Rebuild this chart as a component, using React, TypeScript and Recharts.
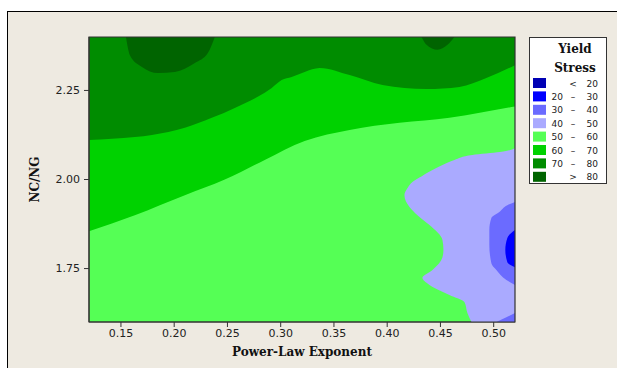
import React from "react";
import { ComposedChart, Area, XAxis, YAxis, ReferenceArea, Label } from "recharts";

// Contour de Yield Stress: NC/NG vs Power-Law Exponent.
// Bandas verdes como áreas de rango en x; zonas azules (dependen de y) en un
// segundo chart con layout vertical superpuesto.

const X_MIN = 0.12;
const X_MAX = 0.52;
const Y_MIN = 1.6;
const Y_MAX = 2.4;

const xTicks = [0.15, 0.2, 0.25, 0.3, 0.35, 0.4, 0.45, 0.5];
const yTicks = [1.75, 2.0, 2.25];

// leyenda
const bandColors = ["#0000B4", "#0000FF", "#6B6BFF", "#AAAAFF", "#55FF55", "#00D200", "#008C00", "#006400"];
const bandFrom = ["", "20", "30", "40", "50", "60", "70", ""];
const bandSign = ["<", "–", "–", "–", "–", "–", "–", ">"];
const bandTo = ["20", "30", "40", "50", "60", "70", "80", "80"];

// bordes inferiores [x, y] (la región llega hasta arriba)
const edge50 = [[0.12, 1.6], [0.52, 1.6]];
const edge60 = [
  [0.12, 1.855], [0.163, 1.9], [0.21, 1.956], [0.2475, 2.0], [0.285, 2.055],
  [0.3225, 2.108], [0.3647, 2.139], [0.4116, 2.159], [0.4584, 2.173], [0.4894, 2.189], [0.52, 2.205],
];
const edge70 = [
  [0.12, 2.111], [0.1631, 2.119], [0.1791, 2.125], [0.21, 2.145], [0.2353, 2.173], [0.2569, 2.201],
  [0.2784, 2.232], [0.2916, 2.257], [0.3009, 2.279], [0.3103, 2.288], [0.3225, 2.302], [0.3366, 2.313],
  [0.3647, 2.293], [0.3956, 2.265], [0.4369, 2.254], [0.4678, 2.26], [0.4931, 2.285], [0.52, 2.321],
];
const peak80a = [
  [0.1547, 2.4], [0.1584, 2.349], [0.1697, 2.316], [0.1847, 2.299], [0.2006, 2.302],
  [0.2194, 2.327], [0.2316, 2.355], [0.2381, 2.4],
];
const peak80b = [[0.4322, 2.4], [0.4369, 2.378], [0.4472, 2.364], [0.4566, 2.378], [0.4631, 2.4]];

// bordes izquierdos [y, x] (la región llega hasta la derecha)
const edge40 = [
  [1.6, 0.4791], [1.625, 0.4753], [1.656, 0.4725], [1.676, 0.4584], [1.704, 0.4397], [1.724, 0.4331],
  [1.746, 0.4425], [1.782, 0.4519], [1.802, 0.4528], [1.83, 0.4519], [1.872, 0.4397], [1.9, 0.4284],
  [1.923, 0.4209], [1.956, 0.4162], [1.976, 0.4191], [1.993, 0.4237], [2.004, 0.4294], [2.027, 0.4425],
  [2.041, 0.4519], [2.055, 0.4631], [2.069, 0.48], [2.077, 0.5059], [2.088, 0.52],
];
const edge30a = [
  [1.704, 0.52], [1.718, 0.5119], [1.746, 0.5025], [1.765, 0.4978], [1.816, 0.4959],
  [1.858, 0.4959], [1.892, 0.4978], [1.909, 0.5053], [1.928, 0.5128], [1.937, 0.52],
];
const edge30b = [[1.6, 0.5025], [1.625, 0.52]];
const edge20 = [[1.754, 0.52], [1.768, 0.5128], [1.802, 0.5109], [1.836, 0.5128], [1.858, 0.52]];

const toTop = (pts: number[][]) => pts.map(([x, y]) => ({ x, r: [y, Y_MAX] }));
const toRight = (pts: number[][]) => pts.map(([y, x]) => ({ y, r: [x, X_MAX] }));

const W = 617;
const H = 368;
const tickStyle = { fontFamily: "DejaVu Sans", fontSize: 11, fill: "#222" };

function YTitle({ viewBox }: any) {
  const x = viewBox.x + 35;
  const y = viewBox.y + viewBox.height / 2;
  return (
    <text x={x} y={y} transform={`rotate(-90, ${x}, ${y})`} textAnchor="middle" dominantBaseline="central"
      fontFamily="DejaVu Serif" fontWeight="bold" fontSize={12} fill="#111">
      NC/NG
    </text>
  );
}

function StressLegend() {
  return (
    <div style={{ position: "absolute", left: 529, top: 37, width: 78, height: 147, background: "#fff", border: "1px solid #333", boxSizing: "border-box" }}>
      <svg width={78} height={147}>
        <g fontFamily="DejaVu Serif" fontWeight="bold" fontSize={12} fill="#111" textAnchor="middle">
          <text x={45} y={15}>Yield</text>
          <text x={45} y={34}>Stress</text>
        </g>
        {bandColors.map((c, i) => {
          const cy = 45 + i * 13.4;
          return (
            <g key={i} fontFamily="DejaVu Sans" fontSize={9} fill="#222">
              <rect x={3} y={cy - 5} width={13} height={10} fill={c} />
              <text x={33} y={cy + 3.5} textAnchor="end">{bandFrom[i]}</text>
              <text x={43} y={cy + 3.5} textAnchor="middle">{bandSign[i]}</text>
              <text x={68} y={cy + 3.5} textAnchor="end">{bandTo[i]}</text>
            </g>
          );
        })}
      </svg>
    </div>
  );
}

export default function App() {
  return (
    <div style={{ position: "absolute", left: 0, top: 0, width: W, height: H, background: "#fff", overflow: "hidden" }}>
      <div style={{ position: "absolute", left: 7, top: 11, right: 0, bottom: 0, background: "#EEEAE1", borderLeft: "1px solid #000", borderTop: "1px solid #000" }} />
      <div style={{ position: "absolute", left: 0, top: 0 }}>
        <ComposedChart width={W} height={H} margin={{ top: 37, right: 102, bottom: 0, left: 0 }}>
          <XAxis type="number" dataKey="x" domain={[X_MIN, X_MAX]} ticks={xTicks} allowDataOverflow
            tickFormatter={(v: number) => v.toFixed(2)} tick={tickStyle} tickSize={5} tickMargin={2}
            stroke="#333" height={46}>
            <Label value="Power-Law Exponent" position="insideBottom" offset={12}
              style={{ fontFamily: "DejaVu Serif", fontWeight: "bold", fontSize: 12, fill: "#111" }} />
          </XAxis>
          <YAxis type="number" domain={[Y_MIN, Y_MAX]} ticks={yTicks} allowDataOverflow
            tickFormatter={(v: number) => v.toFixed(2)} tick={tickStyle} tickSize={5} tickMargin={4}
            stroke="#333" width={89} label={<YTitle />} />
          <Area data={toTop(edge50)} dataKey="r" type="monotone" stroke="none" fill={bandColors[4]} fillOpacity={1} isAnimationActive={false} dot={false} activeDot={false} />
          <Area data={toTop(edge60)} dataKey="r" type="monotone" stroke="none" fill={bandColors[5]} fillOpacity={1} isAnimationActive={false} dot={false} activeDot={false} />
          <Area data={toTop(edge70)} dataKey="r" type="monotone" stroke="none" fill={bandColors[6]} fillOpacity={1} isAnimationActive={false} dot={false} activeDot={false} />
          <Area data={toTop(peak80a)} dataKey="r" type="monotone" stroke="none" fill={bandColors[7]} fillOpacity={1} isAnimationActive={false} dot={false} activeDot={false} />
          <Area data={toTop(peak80b)} dataKey="r" type="monotone" stroke="none" fill={bandColors[7]} fillOpacity={1} isAnimationActive={false} dot={false} activeDot={false} />
        </ComposedChart>
      </div>
      <div style={{ position: "absolute", left: 0, top: 0 }}>
        <ComposedChart width={W} height={H} layout="vertical" margin={{ top: 37, right: 102, bottom: 46, left: 89 }}>
          <XAxis type="number" domain={[X_MIN, X_MAX]} allowDataOverflow hide />
          <YAxis type="number" dataKey="y" domain={[Y_MIN, Y_MAX]} allowDataOverflow hide reversed />
          <Area data={toRight(edge40)} dataKey="r" type="monotone" stroke="none" fill={bandColors[3]} fillOpacity={1} isAnimationActive={false} dot={false} activeDot={false} />
          <Area data={toRight(edge30a)} dataKey="r" type="monotone" stroke="none" fill={bandColors[2]} fillOpacity={1} isAnimationActive={false} dot={false} activeDot={false} />
          <Area data={toRight(edge30b)} dataKey="r" type="monotone" stroke="none" fill={bandColors[2]} fillOpacity={1} isAnimationActive={false} dot={false} activeDot={false} />
          <Area data={toRight(edge20)} dataKey="r" type="monotone" stroke="none" fill={bandColors[1]} fillOpacity={1} isAnimationActive={false} dot={false} activeDot={false} />
          <ReferenceArea x1={X_MIN} x2={X_MAX} y1={Y_MIN} y2={Y_MAX} fill="none" stroke="#333" strokeWidth={1.2} ifOverflow="visible" />
        </ComposedChart>
      </div>
      <StressLegend />
    </div>
  );
}
